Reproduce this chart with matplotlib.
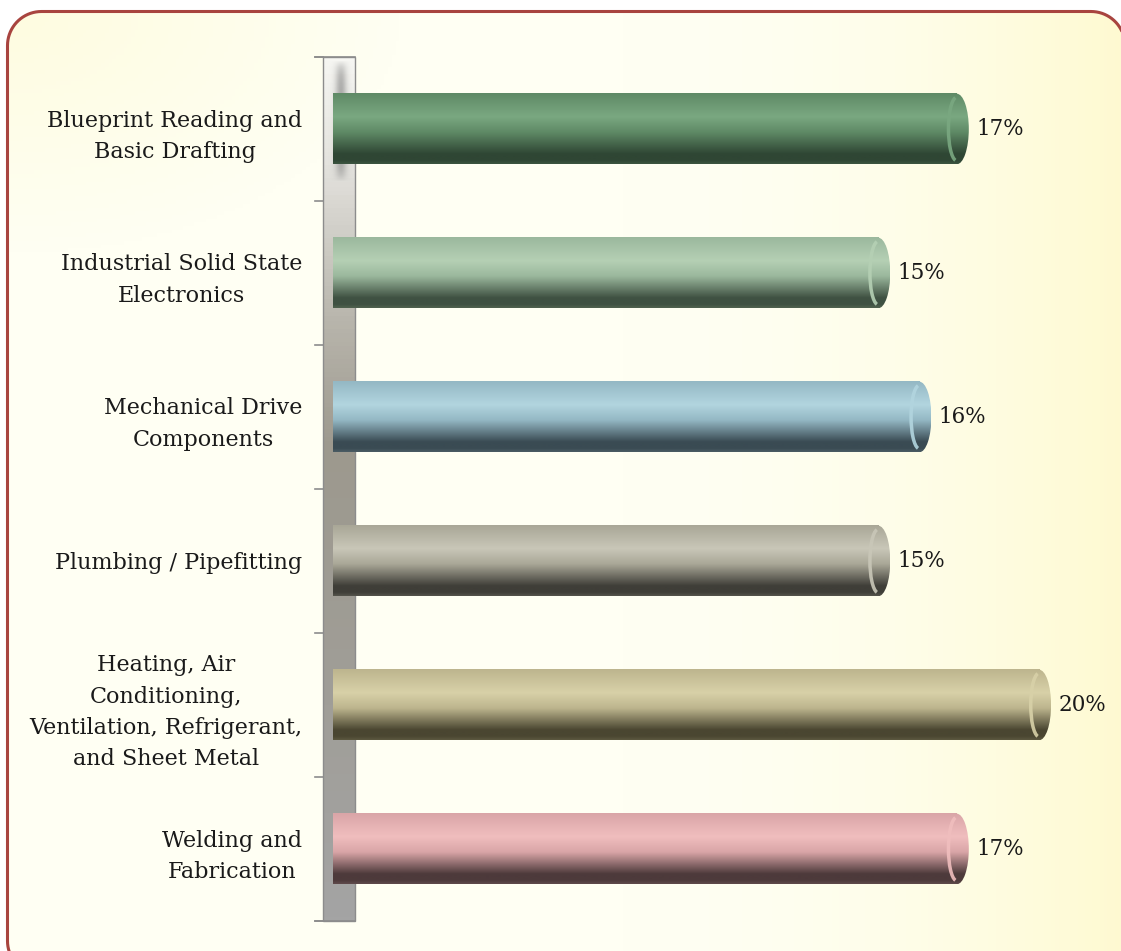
import matplotlib
matplotlib.use('Agg')
import matplotlib.pyplot as plt
import numpy as np
from matplotlib.colors import LinearSegmentedColormap
from matplotlib.patches import Polygon, Ellipse, Rectangle, Arc

# data
categories = [
    'Blueprint Reading and\nBasic Drafting',
    'Industrial Solid State\nElectronics',
    'Mechanical Drive\nComponents',
    'Plumbing / Pipefitting',
    'Heating, Air\nConditioning,\nVentilation, Refrigerant,\nand Sheet Metal',
    'Welding and\nFabrication',
]
values = [17.0, 14.9, 16.0, 14.9, 19.2, 17.0]
value_labels = ['17%', '15%', '16%', '15%', '20%', '17%']

# bar shading: (top, highlight, dark, bottom)
bar_shades = [
    ('#5f8a66', '#7aa881', '#2f4634', '#3c5540'),
    ('#9bb89d', '#b5d0b4', '#3f5142', '#50624f'),
    ('#94b8c4', '#b2d5df', '#3a4b53', '#4b5c64'),
    ('#a9a797', '#c9c7b8', '#3f3e38', '#54534b'),
    ('#bdb58e', '#d8d1a8', '#4a4631', '#5c5840'),
    ('#d9a5a7', '#f0bebe', '#4d3a3b', '#5f4a4b'),
]

W, H = 1121, 951
fig = plt.figure(figsize=(W / 100, H / 100), dpi=100)
fig.patch.set_facecolor('white')

# background axes in pixel coordinates (y measured upward)
bg = fig.add_axes([0, 0, 1, 1])
bg.axis('off')


def py(y):
    # pixel row from top -> bg y
    return H - y


def rounded_rect(x0, y0, x1, y1, r, n=20):
    pts = []
    corners = [(x1 - r, y1 - r, 0), (x0 + r, y1 - r, 90), (x0 + r, y0 + r, 180), (x1 - r, y0 + r, 270)]
    for cx, cy, a0 in corners:
        a = np.radians(np.linspace(a0, a0 + 90, n))
        pts.extend(zip(cx + r * np.cos(a), cy + r * np.sin(a)))
    return np.array(pts)


# cream panel with soft yellow tint towards the right
xx = np.linspace(0, 1, 300)
yy = np.linspace(0, 1, 260)
X, Y = np.meshgrid(xx, yy)
t = np.clip((X - 0.55) / 0.45, 0, 1) ** 2 * 0.9
t = np.maximum(t, np.clip(1 - np.hypot(X / 0.35, Y / 0.25), 0, 1) * 0.5)
base = np.array([255, 255, 243]) / 255
tint = np.array([254, 249, 205]) / 255
img = base[None, None, :] * (1 - t[..., None]) + tint[None, None, :] * t[..., None]
fx0, fy0, fx1, fy1 = 7.5, 11.5, 1125, 975
frame = Polygon(rounded_rect(fx0, py(fy1), fx1, py(fy0), 34), closed=True,
                facecolor='none', edgecolor='#a8443f', linewidth=2.2, zorder=3)
bg.add_patch(frame)
im = bg.imshow(img, extent=(fx0, fx1, py(fy1), py(fy0)), aspect='auto', origin='upper', zorder=1)
im.set_clip_path(frame)

# side wall of the 3d plot
wall_x0, wall_x1, wall_y0, wall_y1 = 323, 355, 57, 921
wcmap = LinearSegmentedColormap.from_list('wall', [
    (0.0, '#f6f6f2'), (0.12, '#e4e3de'), (0.3, '#b9b6ad'),
    (0.45, '#9d998e'), (0.75, '#a09e98'), (1.0, '#a4a4a4')])
bg.imshow(np.linspace(0, 1, 200)[:, None], cmap=wcmap, aspect='auto', origin='upper',
          extent=(wall_x0, wall_x1, py(wall_y1), py(wall_y0)), zorder=2)
# faint shadow of the first bar on the light part of the wall
sy = np.linspace(-1, 1, 120)
sx = np.linspace(-1, 1, 40)
SX, SY = np.meshgrid(sx, sy)
shadow = np.exp(-(SX / 0.45) ** 2) * np.clip(1 - SY ** 6, 0, 1)
sh = np.zeros((120, 40, 4))
sh[..., :3] = 0.5
sh[..., 3] = shadow * 0.6
bg.imshow(sh, extent=(328, 354, py(182), py(60)), aspect='auto', zorder=2.1)
bg.add_patch(Rectangle((wall_x0, py(wall_y1)), wall_x1 - wall_x0, wall_y1 - wall_y0,
                       facecolor='none', edgecolor='#8c8c8c', linewidth=1.0, zorder=2.2))
bg.plot([315, wall_x1], [py(wall_y0)] * 2, color='#8c8c8c', lw=1.2, zorder=2.3)
bg.plot([315, wall_x1], [py(wall_y1)] * 2, color='#8c8c8c', lw=1.2, zorder=2.3)
for k in range(len(categories) + 1):
    yb = wall_y0 + k * (wall_y1 - wall_y0) / len(categories)
    bg.plot([315, wall_x0], [py(yb)] * 2, color='#8c8c8c', lw=1.2, zorder=2.3)
bg.set_xlim(0, W)
bg.set_ylim(0, H)

# main axes: x=0 at pixel 333, 37.4 px per percent
px_per = 37.4
ax_left = 333
ax = fig.add_axes([ax_left / W, 1 - wall_y1 / H, (W - ax_left) / W, (wall_y1 - wall_y0) / H])
ax.set_facecolor('none')
for s in ax.spines.values():
    s.set_visible(False)

bar_h = 0.49
cap_r = 0.32
yc = np.arange(len(categories))
for i, (v, shade) in enumerate(zip(values, bar_shades)):
    top, hi, dark, bottom = shade
    cmap = LinearSegmentedColormap.from_list('b%d' % i, [
        (0.0, top), (0.33, hi), (0.55, top), (0.86, dark), (0.95, dark), (1.0, bottom)])
    grad = np.linspace(0, 1, 200)[:, None]
    y0, y1 = yc[i] - bar_h / 2, yc[i] + bar_h / 2
    ax.imshow(grad, cmap=cmap, aspect='auto', origin='upper',
              extent=(0, v - cap_r, y1, y0), zorder=3, interpolation='bilinear')
    cap = Ellipse((v - cap_r, yc[i]), 2 * cap_r, bar_h, facecolor='none',
                  edgecolor='none', zorder=3)
    ax.add_patch(cap)
    cim = ax.imshow(grad, cmap=cmap, aspect='auto', origin='upper',
                    extent=(v - 2 * cap_r, v, y1, y0), zorder=3, interpolation='bilinear')
    cim.set_clip_path(cap)
    ax.add_patch(Arc((v - cap_r, yc[i]), 2 * cap_r * 0.7, bar_h * 0.9, theta1=100, theta2=260,
                     color=hi, alpha=0.9, lw=2.5, zorder=4))
    ax.text(v + 0.2, yc[i], value_labels[i], ha='left', va='center',
            fontsize=15.5, family='DejaVu Serif', color='#1a1a1a', zorder=5)

ax.set_xlim(0, (W - ax_left) / px_per)
ax.set_ylim(len(categories) - 0.5, -0.5)
ax.set_xticks([])
ax.set_yticks(yc)
ax.set_yticklabels(categories, fontsize=16, family='DejaVu Serif', color='#1a1a1a',
                   multialignment='center', linespacing=1.55)
ax.tick_params(axis='y', length=0, pad=22)

fig.savefig('out.png', dpi=100)
